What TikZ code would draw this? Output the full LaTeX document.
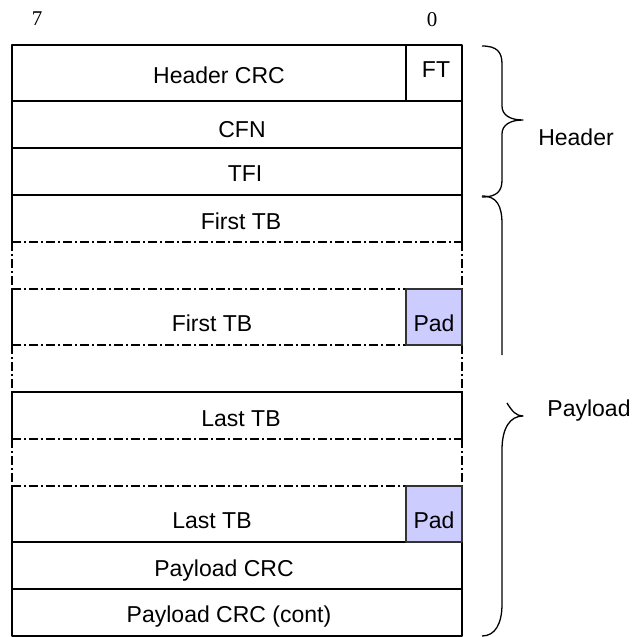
\documentclass[tikz,border=0pt]{standalone}
\usepackage{fontspec}
\setmainfont{Liberation Sans}
\newfontfamily\digitfont{Liberation Serif}
\usepackage{tikz}
\usepackage{xcolor}
\definecolor{padfill}{RGB}{204,204,255}
\usetikzlibrary{calc}

\begin{document}
\begin{tikzpicture}[x=1pt, y=-1pt, line width=1.3pt, line join=round,
  dd/.style={dash pattern=on 9pt off 3pt on 2pt off 3pt},
  lbl/.style={anchor=base, inner sep=0pt, font=\fontsize{23}{27}\selectfont},
  padbox/.style={draw=black!80, fill=padfill}]
\useasboundingbox (0,0) rectangle (634,637);
% bit numbers
\node[font=\digitfont\fontsize{21}{24}\selectfont] (b7) at (37,19) {7};
\node[font=\digitfont\fontsize{21}{24}\selectfont] (b0) at (432,20) {0};
% solid rows
\foreach \t/\b in {45/101, 101/148, 148/195, 542/589, 589/636}
  \draw (12,\t) rectangle (462,\b);
\draw (406,45) -- (406,101);
\draw (12,242) -- (12,195) -- (462,195) -- (462,242);
\draw (12,439) -- (12,392) -- (462,392) -- (462,439);
\draw (12,289) -- (12,345);
\draw (12,486) -- (12,542);
% dash-dot parts
\foreach \t/\b in {242/289, 345/392, 439/486}
  \draw[dd] (12,\t) -- (12,\b) (462,\t) -- (462,\b);
\draw[dd] (12,242) -- (462,242);
\draw[dd] (12,439) -- (462,439);
\foreach \y in {289, 345, 486}
  \draw[dd] (12,\y) -- (406,\y);
% pads
\draw[padbox] (406,289) rectangle (462,345);
\draw[padbox] (406,486) rectangle (462,542);
% texts
\foreach \n/\x/\y/\txt in {
hcrc/219/83/{Header CRC}, ft/436/77/FT, cfn/242/137/CFN, tfi/245/181/TFI,
tba/241/229/{First TB}, tbb/212/331/{First TB}, pada/434/331/Pad,
tbc/241/426/{Last TB}, tbd/212/528/{Last TB}, padb/434/528/Pad,
pcrc/224/576/{Payload CRC}, pcrcc/229/622/{Payload CRC (cont)},
hdr/576/145/Header, pld/589/416/Payload
}{
\node[lbl] (\n) at (\x,\y) {\txt};
}
% braces
\draw (482,46) .. controls (497,46) and (502,52) .. (502,64) -- (502,106)
  .. controls (502,115) and (510,120) .. (523,120)
  .. controls (510,120) and (502,125) .. (502,134) -- (502,180)
  .. controls (502,191) and (497,197) .. (482,197);
\draw (482,196) .. controls (497,196) and (502,206) .. (502,224) -- (502,355);
\draw (507,403) .. controls (512,411) and (516,416) .. (523,416)
  .. controls (510,416) and (502,428) .. (502,450) -- (502,604)
  .. controls (502,624) and (495,636) .. (482,636);
\end{tikzpicture}
\end{document}
